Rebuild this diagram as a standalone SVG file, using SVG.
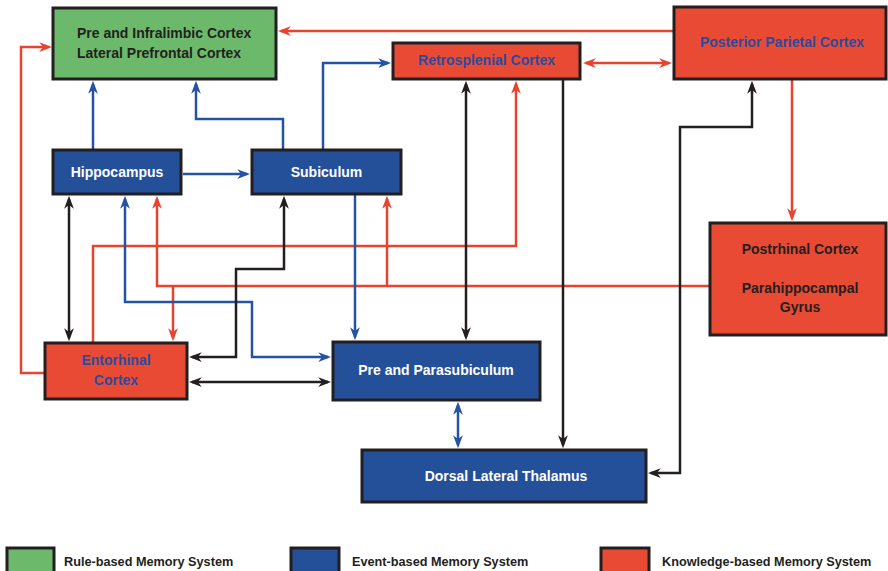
<svg xmlns="http://www.w3.org/2000/svg" width="888" height="571" viewBox="0 0 888 571">
<style>
.box{stroke:#231F20;stroke-width:3}
.g{fill:#6DB96B}.b{fill:#244F99}.r{fill:#E84A33}
.t{font-family:"Liberation Sans",Arial,sans-serif;font-weight:bold;font-size:14px;text-anchor:middle}
.dk{fill:#231F20}.wh{fill:#FFFFFF}.bl{fill:#2E4A9E}
.lg{font-family:"Liberation Sans",Arial,sans-serif;font-weight:bold;font-size:12.7px;fill:#231F20}
.c{fill:none;stroke-width:2.5}
.cr{stroke:#E8432E}.cb{stroke:#2553A3}.ck{stroke:#231F20}
</style>
<defs>
<marker id="ar" markerUnits="userSpaceOnUse" markerWidth="13" markerHeight="10" refX="9" refY="4.5" orient="auto-start-reverse" viewBox="0 0 12 9"><path d="M0,0 L12,4.5 L0,9 L3.5,4.5 Z" fill="#E8432E"/></marker>
<marker id="ab" markerUnits="userSpaceOnUse" markerWidth="13" markerHeight="10" refX="9" refY="4.5" orient="auto-start-reverse" viewBox="0 0 12 9"><path d="M0,0 L12,4.5 L0,9 L3.5,4.5 Z" fill="#2553A3"/></marker>
<marker id="ak" markerUnits="userSpaceOnUse" markerWidth="13" markerHeight="10" refX="9" refY="4.5" orient="auto-start-reverse" viewBox="0 0 12 9"><path d="M0,0 L12,4.5 L0,9 L3.5,4.5 Z" fill="#231F20"/></marker>
</defs>
<rect width="888" height="571" fill="#FFFFFF"/>
<g id="connectors">
<path class="c cr" d="M674,31 H281" marker-end="url(#ar)"/>
<path class="c cr" d="M45,373 H21 V47 H49" marker-end="url(#ar)"/>
<path class="c cb" d="M93,150 V84" marker-end="url(#ab)"/>
<path class="c cb" d="M283,150 V119 H196 V84" marker-end="url(#ab)"/>
<path class="c cb" d="M183,174 H247" marker-end="url(#ab)"/>
<path class="c cb" d="M323,150 V63 H388" marker-end="url(#ab)"/>
<path class="c cr" d="M586,63 H669" marker-start="url(#ar)" marker-end="url(#ar)"/>
<path class="c cr" d="M93,343 V246 H516 V84" marker-end="url(#ar)"/>
<path class="c cr" d="M792,79 V218" marker-end="url(#ar)"/>
<path class="c cr" d="M710,286 H157 V199" marker-end="url(#ar)"/>
<path class="c cr" d="M387,286 V199" marker-end="url(#ar)"/>
<path class="c cr" d="M173,286 V338" marker-end="url(#ar)"/>
<path class="c ck" d="M466,84 V337" marker-start="url(#ak)" marker-end="url(#ak)"/>
<path class="c ck" d="M563,79 V445" marker-end="url(#ak)"/>
<path class="c ck" d="M651,473 H680 V127 H752 V84" marker-start="url(#ak)" marker-end="url(#ak)"/>
<path class="c ck" d="M69,199 V338" marker-start="url(#ak)" marker-end="url(#ak)"/>
<path class="c cb" d="M125,199 V302 H252 V357 H328" marker-start="url(#ab)" marker-end="url(#ab)"/>
<path class="c ck" d="M284,199 V269 H236 V357 H192" marker-start="url(#ak)" marker-end="url(#ak)"/>
<path class="c ck" d="M192,382 H328" marker-start="url(#ak)" marker-end="url(#ak)"/>
<path class="c cb" d="M355,194 V337" marker-end="url(#ab)"/>
<path class="c cb" d="M458,405 V445" marker-start="url(#ab)" marker-end="url(#ab)"/>
</g>
<g id="prefrontal">
<rect class="box g" x="53" y="8" width="223" height="71"/>
<text class="t dk" x="77" y="38" style="text-anchor:start">Pre and Infralimbic Cortex</text>
<text class="t dk" x="77" y="58" style="text-anchor:start">Lateral Prefrontal Cortex</text>
</g>
<g id="hippocampus">
<rect class="box b" x="53" y="150" width="128" height="44"/>
<text class="t wh" x="117" y="177">Hippocampus</text>
</g>
<g id="subiculum">
<rect class="box b" x="252" y="150" width="149" height="44"/>
<text class="t wh" x="326.5" y="177">Subiculum</text>
</g>
<g id="retrosplenial">
<rect class="box r" x="393" y="43" width="187" height="36"/>
<text class="t bl" x="486.5" y="65">Retrosplenial Cortex</text>
</g>
<g id="parietal">
<rect class="box r" x="674" y="7" width="212" height="72"/>
<text class="t bl" x="782" y="47">Posterior Parietal Cortex</text>
</g>
<g id="postrhinal">
<rect class="box r" x="710" y="223" width="176" height="112"/>
<text class="t dk" x="800" y="254">Postrhinal Cortex</text>
<text class="t dk" x="800" y="293">Parahippocampal</text>
<text class="t dk" x="800" y="312">Gyrus</text>
</g>
<g id="entorhinal">
<rect class="box r" x="45" y="343" width="142" height="56"/>
<text class="t bl" x="116" y="365">Entorhinal</text>
<text class="t bl" x="116" y="385">Cortex</text>
</g>
<g id="parasubiculum">
<rect class="box b" x="333" y="342" width="207" height="58"/>
<text class="t wh" x="436" y="375">Pre and Parasubiculum</text>
</g>
<g id="thalamus">
<rect class="box b" x="362" y="450" width="284" height="52"/>
<text class="t wh" x="506" y="481">Dorsal Lateral Thalamus</text>
</g>
<g id="legend">
<rect class="box g" x="7" y="548" width="47" height="30"/>
<text class="lg" x="64" y="565.5">Rule-based Memory System</text>
<rect class="box b" x="291" y="548" width="48" height="30"/>
<text class="lg" x="352" y="565.5">Event-based Memory System</text>
<rect class="box r" x="601" y="548" width="48" height="30"/>
<text class="lg" x="662" y="565.5">Knowledge-based Memory System</text>
</g>
</svg>
